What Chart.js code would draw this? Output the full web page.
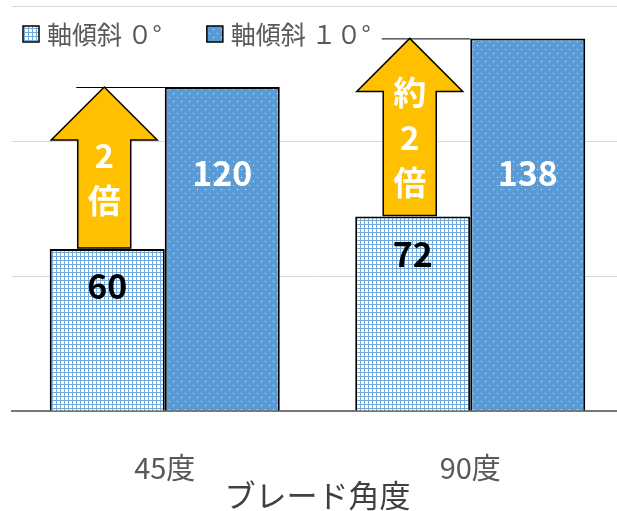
<!DOCTYPE html>
<html><head><meta charset="utf-8">
<script src="https://cdn.jsdelivr.net/npm/chart.js@4/dist/chart.umd.min.js"></script>
<style>html,body{margin:0;padding:0;overflow:hidden;background:#fff}</style>
</head><body>
<canvas id="c" width="623" height="511"></canvas>
<script>
// ---- data ----
const categories = ['45度', '90度'];
const seriesNames = ['軸傾斜 ０°', '軸傾斜 １０°'];
const tilt0 = [60, 72];
const tilt10 = [120, 138];
const arrowLabels = [['2', '倍'], ['約', '2', '倍']];
const axisTitle = 'ブレード角度';
const yTicks = [0, 50, 100, 150];

// ---- style ----
const FONT = '"Noto Sans CJK JP", "Noto Sans", sans-serif';
const GRAY = '#595959';
const BLUE = '#5b9bd5';
const innerLabelLevel = 88; // value level where white labels sit

const cvs = document.getElementById('c');
const ctx = cvs.getContext('2d');

function gridPattern() {
  const c = document.createElement('canvas'); c.width = 4; c.height = 4;
  const g = c.getContext('2d');
  g.fillStyle = '#fff'; g.fillRect(0, 0, 4, 4);
  g.fillStyle = 'rgba(91,155,213,0.85)';
  g.fillRect(0, 0, 4, 1); g.fillRect(0, 1, 1, 3);
  return ctx.createPattern(c, 'repeat');
}
function dotPattern() {
  const c = document.createElement('canvas'); c.width = 8; c.height = 8;
  const g = c.getContext('2d');
  g.fillStyle = BLUE; g.fillRect(0, 0, 8, 8);
  g.fillStyle = 'rgba(255,255,255,0.8)';
  g.fillRect(1, 1, 1, 1); g.fillRect(5, 5, 1, 1);
  return ctx.createPattern(c, 'repeat');
}
const fills = [gridPattern(), dotPattern()];

const overlay = {
  id: 'overlay',
  afterDatasetsDraw(chart) {
    const c = chart.ctx;
    const m0 = chart.getDatasetMeta(0), m1 = chart.getDatasetMeta(1);
    const ys = chart.scales.y;
    m0.data.forEach((b0, i) => {
      const b1 = m1.data[i];
      const cx = b0.x - 3, yb = b0.y - 1, yt = b1.y;
      const sw = 26.5, hw = 53, hh = 53;
      c.save();
      c.strokeStyle = '#000'; c.lineWidth = 1;
      c.beginPath(); c.moveTo(cx - 28, yt + 0.5); c.lineTo(b1.x - b1.width / 2, yt + 0.5); c.stroke();
      c.beginPath();
      c.moveTo(cx - sw, yb); c.lineTo(cx - sw, yt + hh); c.lineTo(cx - hw, yt + hh);
      c.lineTo(cx, yt); c.lineTo(cx + hw, yt + hh); c.lineTo(cx + sw, yt + hh);
      c.lineTo(cx + sw, yb); c.closePath();
      c.fillStyle = '#ffc000'; c.fill();
      c.lineWidth = 1.5; c.lineJoin = 'miter'; c.stroke();
      // arrow text
      const lines = arrowLabels[i];
      const mid = (yt + yb) / 2 + 10;
      const step = 45;
      c.fillStyle = '#fff';
      c.font = 'bold 33px ' + FONT;
      c.textAlign = 'center'; c.textBaseline = 'middle';
      lines.forEach((t, k) => {
        c.fillText(t, cx, mid + (k - (lines.length - 1) / 2) * step);
      });
      // value labels
      c.font = 'bold 34px ' + FONT;
      c.fillStyle = '#000';
      c.fillText(String(tilt0[i]), b0.x, b0.y + 37);
      c.fillStyle = '#fff';
      c.fillText(String(tilt10[i]), b1.x, ys.getPixelForValue(innerLabelLevel));
      c.restore();
    });
    // legend
    c.save();
    c.font = '25px ' + FONT;
    c.textBaseline = 'middle'; c.textAlign = 'left';
    let x = 23;
    seriesNames.forEach((name, k) => {
      c.fillStyle = fills[k];
      c.fillRect(x, 26, 16, 16);
      c.strokeStyle = '#000'; c.lineWidth = 1.5;
      c.strokeRect(x, 26, 16, 16);
      c.fillStyle = GRAY;
      c.fillText(name, x + 24, 34);
      x += 24 + c.measureText(name).width + 45;
    });
    c.restore();
  }
};

new Chart(cvs, {
  type: 'bar',
  data: {
    labels: categories,
    datasets: [
      { label: seriesNames[0], data: tilt0, backgroundColor: fills[0], borderColor: '#000', borderWidth: 2 },
      { label: seriesNames[1], data: tilt10, backgroundColor: fills[1], borderColor: '#000', borderWidth: 2 }
    ]
  },
  options: {
    responsive: false,
    devicePixelRatio: 1,
    animation: false,
    layout: { padding: { left: 12, right: 0, top: 6, bottom: 0 } },
    categoryPercentage: 0.753,
    barPercentage: 1,
    plugins: { legend: { display: false }, tooltip: { enabled: false } },
    scales: {
      x: {
        grid: { display: false },
        border: { display: true, color: '#767676', width: 2 },
        ticks: { color: GRAY, font: { family: FONT, size: 29, lineHeight: 1 }, padding: 34.5 },
        title: { display: true, text: axisTitle, color: '#404040', font: { family: FONT, size: 31, lineHeight: 1 }, padding: { top: 0, bottom: 0 } },
        afterFit(s) { s.height = 100; }
      },
      y: {
        min: yTicks[0], max: yTicks[yTicks.length - 1],
        afterBuildTicks(s) { s.ticks = yTicks.map(v => ({ value: v })); },
        ticks: { display: false },
        border: { display: false },
        grid: { color: ctx2 => ctx2.tick && ctx2.tick.value === 0 ? 'rgba(0,0,0,0)' : '#d9d9d9', lineWidth: 1, drawTicks: false },
        afterFit(s) { s.width = 0; }
      }
    }
  },
  plugins: [overlay]
});
</script>
</body></html>
